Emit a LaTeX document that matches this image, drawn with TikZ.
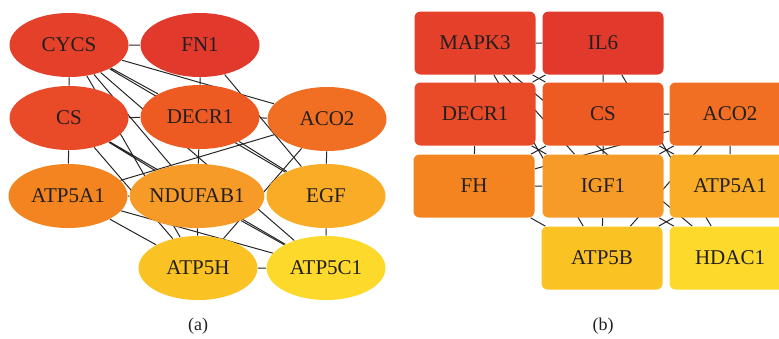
\documentclass[tikz,border=0pt]{standalone}
\usepackage{fontspec}
\setmainfont{Liberation Serif}
\usetikzlibrary{shapes.geometric}
\usetikzlibrary{backgrounds}

\definecolor{rankA}{HTML}{E2392D}
\definecolor{rankB}{HTML}{E5412A}
\definecolor{rankC}{HTML}{E94A27}
\definecolor{rankD}{HTML}{EE5B22}
\definecolor{rankE}{HTML}{F16F22}
\definecolor{rankF}{HTML}{F4841F}
\definecolor{rankG}{HTML}{F69A28}
\definecolor{rankH}{HTML}{F9AC26}
\definecolor{rankI}{HTML}{FBC224}
\definecolor{rankJ}{HTML}{FCD92B}
\definecolor{genetext}{HTML}{231F20}

\tikzset{
	gene/.style={ellipse, fill=#1, minimum width=59.5pt, minimum height=32pt, inner sep=0pt,
		text=genetext, font=\fontsize{10.5}{12}\selectfont},
	hubbox/.style={rectangle, rounded corners=3pt, fill=#1, minimum width=60.5pt, minimum height=31.5pt,
		inner sep=0pt, text=genetext, font=\fontsize{10.5}{12}\selectfont},
	link/.style={line width=0.5pt, black!85},
	panel/.style={text=genetext, font=\fontsize{9}{11}\selectfont}
}

\begin{document}
\begin{tikzpicture}[x=0.5pt, y=-0.5pt]
		\useasboundingbox (0,0) rectangle (779,338);
		% (a)
		\node[gene=rankB] (cycs) at (69,45) {CYCS};
		\node[gene=rankA] (fn) at (200,45) {FN1};
		\node[gene=rankC] (cs) at (69,118) {CS};
		\node[gene=rankD] (decr) at (200,117) {DECR1};
		\node[gene=rankE] (aco) at (327,119) {ACO2};
		\node[gene=rankF] (atpa) at (68,196) {ATP5A1};
		\node[gene=rankG] (nduf) at (197,196) {NDUFAB1};
		\node[gene=rankH] (egf) at (326,196) {EGF};
		\node[gene=rankI] (atph) at (198,268) {ATP5H};
		\node[gene=rankJ] (atpc) at (326,268) {ATP5C1};
		\node[panel] (capa) at (198,326) {(a)};
		% (b)
		\node[hubbox=rankB] (mapk) at (475,43) {MAPK3};
		\node[hubbox=rankA] (il) at (603,43) {IL6};
		\node[hubbox=rankC] (decrb) at (475,114) {DECR1};
		\node[hubbox=rankD] (csb) at (603,114) {CS};
		\node[hubbox=rankE] (acob) at (730,114) {ACO2};
		\node[hubbox=rankF] (fh) at (474,186) {FH};
		\node[hubbox=rankG] (igf) at (603,186) {IGF1};
		\node[hubbox=rankH] (atpab) at (730,186) {ATP5A1};
		\node[hubbox=rankI] (atpb) at (602,258) {ATP5B};
		\node[hubbox=rankJ] (hdac) at (730,258) {HDAC1};
		\node[panel] (capb) at (603,326) {(b)};
		\begin{scope}[on background layer]
			\draw[link] (cycs) -- (fn) (cycs) -- (cs) (cycs) -- (decr) (cycs) -- (aco)
				(cycs) -- (nduf) (cycs) -- (egf) (cycs) -- (atph) (cycs) -- (atpc);
			\draw[link] (fn) -- (decr) (fn) -- (egf);
			\draw[link] (cs) -- (decr) (cs) -- (atpa) (cs) -- (nduf) (cs) -- (atph) (cs) -- (atpc);
			\draw[link] (decr) -- (aco) (decr) -- (nduf) (decr) -- (egf);
			\draw[link] (aco) -- (egf) (aco) -- (atpa) (aco) -- (atph);
			\draw[link] (atpa) -- (nduf) (atpa) -- (atph) (atpa) -- (atpc);
			\draw[link] (nduf) -- (atph) (nduf) -- (atpc) (egf) -- (atpc) (atph) -- (atpc);
			\draw[link] (mapk) -- (il) (mapk) -- (decrb) (mapk) -- (csb) (mapk) -- (igf)
				(mapk) -- (atpb) (mapk) -- (hdac);
			\draw[link] (il) -- (csb) (il) -- (decrb) (il) -- (hdac);
			\draw[link] (decrb) -- (fh) (decrb) -- (igf);
			\draw[link] (csb) -- (acob) (csb) -- (igf) (csb) -- (fh) (csb) -- (atpab);
			\draw[link] (acob) -- (atpab) (acob) -- (atpb) (acob) -- (fh) (acob) -- (igf);
			\draw[link] (fh) -- (igf) (fh) -- (atpb) (igf) -- (atpb) (igf) -- (hdac) (atpab) -- (atpb);
		\end{scope}
	\end{tikzpicture}
\end{document}
